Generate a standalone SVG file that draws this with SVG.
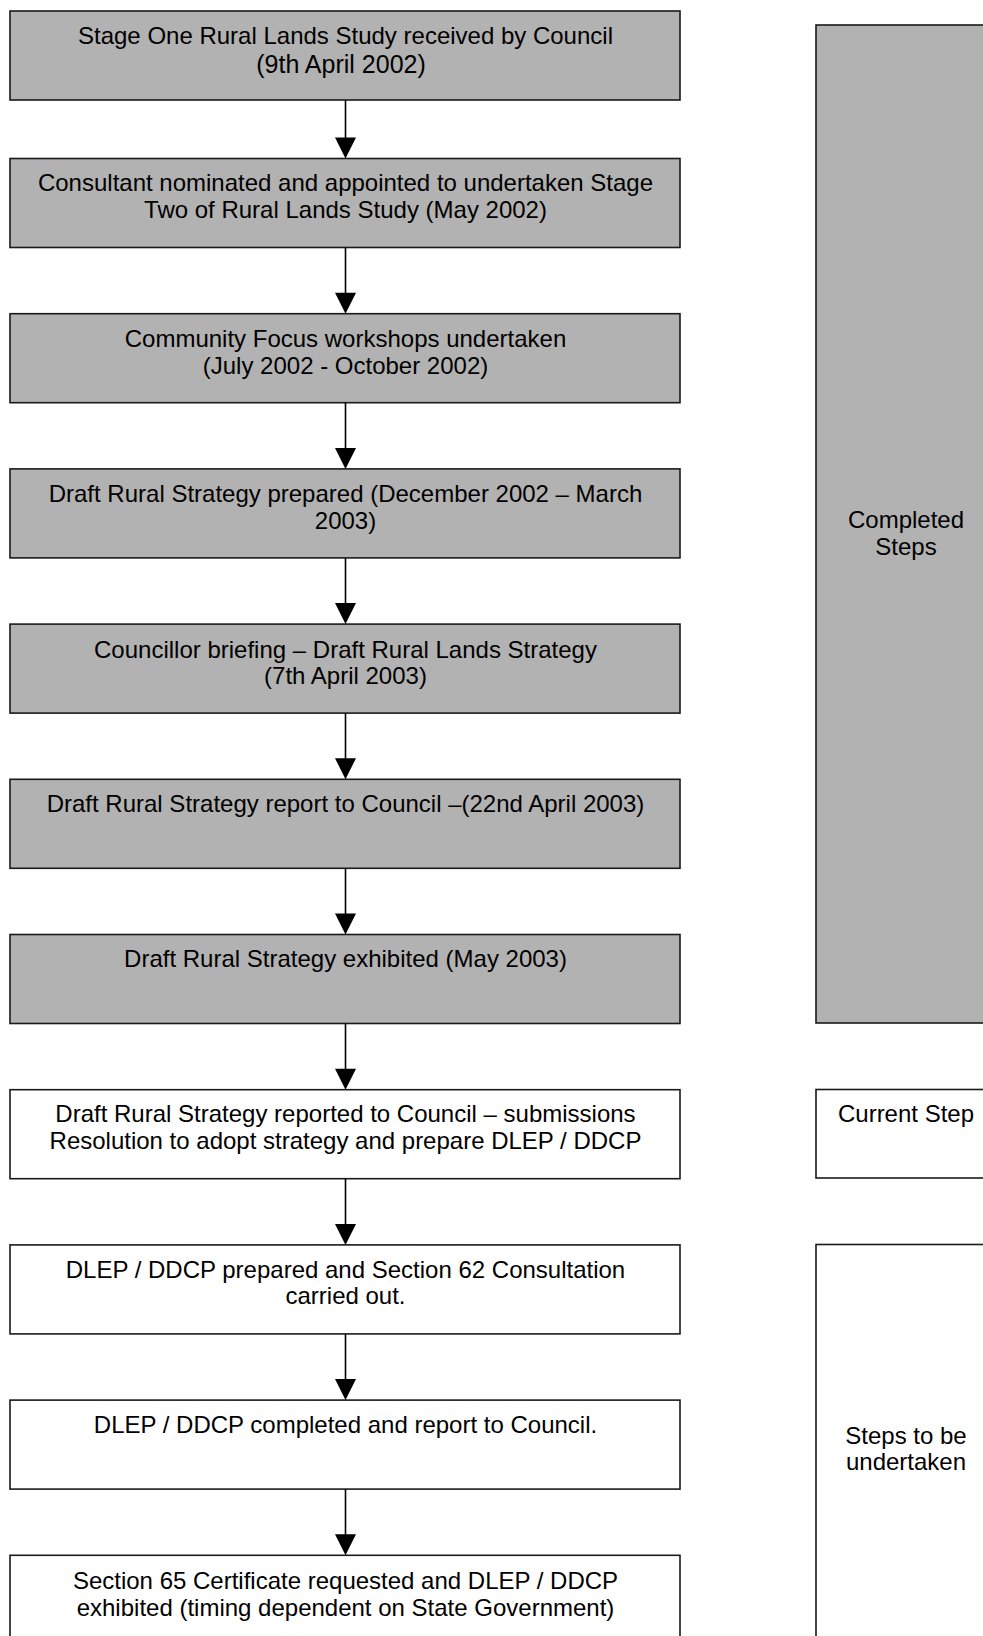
<svg xmlns="http://www.w3.org/2000/svg" width="983" height="1636" viewBox="0 0 983 1636">
<style>
.done{fill:#b2b2b2;stroke:#1a1a1a;stroke-width:1.6}
.todo{fill:#ffffff;stroke:#1a1a1a;stroke-width:1.6}
text{font-family:"Liberation Sans",Arial,sans-serif;font-size:24px;fill:#000;text-anchor:middle}
.big{font-size:25px}
.conn line{stroke:#000;stroke-width:1.6}
.conn polygon{fill:#000}
</style>
<rect width="983" height="1636" fill="#fff"/>
<g id="n1"><rect class="done" x="10" y="11" width="670" height="89"/><text x="345.5" y="44">Stage One Rural Lands Study received by Council</text><text class="big" x="341" y="73">(9th April 2002)</text></g>
<g id="n2"><rect class="done" x="10" y="158.5" width="670" height="89"/><text x="345.5" y="191">Consultant nominated and appointed to undertaken Stage</text><text x="345.5" y="218">Two of Rural Lands Study (May 2002)</text></g>
<g id="n3"><rect class="done" x="10" y="313.7" width="670" height="89"/><text x="345.5" y="347">Community Focus workshops undertaken</text><text x="345.5" y="374">(July 2002 - October 2002)</text></g>
<g id="n4"><rect class="done" x="10" y="468.9" width="670" height="89"/><text x="345.5" y="502">Draft Rural Strategy prepared (December 2002 – March</text><text x="345.5" y="528.5">2003)</text></g>
<g id="n5"><rect class="done" x="10" y="624.1" width="670" height="89"/><text x="345.5" y="657.5">Councillor briefing – Draft Rural Lands Strategy</text><text x="345.5" y="684">(7th April 2003)</text></g>
<g id="n6"><rect class="done" x="10" y="779.3" width="670" height="89"/><text x="345.5" y="812">Draft Rural Strategy report to Council –(22nd April 2003)</text></g>
<g id="n7"><rect class="done" x="10" y="934.5" width="670" height="89"/><text x="345.5" y="967">Draft Rural Strategy exhibited (May 2003)</text></g>
<g id="n8"><rect class="todo" x="10" y="1089.7" width="670" height="89"/><text x="345.5" y="1122">Draft Rural Strategy reported to Council – submissions</text><text x="345.5" y="1148.5">Resolution to adopt strategy and prepare DLEP / DDCP</text></g>
<g id="n9"><rect class="todo" x="10" y="1244.9" width="670" height="89"/><text x="345.5" y="1277.5">DLEP / DDCP prepared and Section 62 Consultation</text><text x="345.5" y="1304">carried out.</text></g>
<g id="n10"><rect class="todo" x="10" y="1400.1" width="670" height="89"/><text x="345.5" y="1433">DLEP / DDCP completed and report to Council.</text></g>
<g id="n11"><rect class="todo" x="10" y="1555.3" width="670" height="100"/><text x="345.5" y="1588.5">Section 65 Certificate requested and DLEP / DDCP</text><text x="345.5" y="1615.5">exhibited (timing dependent on State Government)</text></g>
<g id="legend-completed"><rect class="done" x="816" y="25" width="200" height="998"/><text x="906" y="528">Completed</text><text x="906" y="555">Steps</text></g>
<g id="legend-current"><rect class="todo" x="816" y="1089.5" width="200" height="88.5"/><text x="906" y="1121.5">Current Step</text></g>
<g id="legend-todo"><rect class="todo" x="816" y="1244.5" width="200" height="420"/><text x="906" y="1443.5">Steps to be</text><text x="906" y="1470">undertaken</text></g>
<g id="connectors" class="conn">
<line x1="345.5" y1="100" x2="345.5" y2="138"/><polygon points="335,137.5 356,137.5 345.5,158.5"/>
<line x1="345.5" y1="247.5" x2="345.5" y2="293"/><polygon points="335,292.7 356,292.7 345.5,313.7"/>
<line x1="345.5" y1="402.7" x2="345.5" y2="448"/><polygon points="335,447.9 356,447.9 345.5,468.9"/>
<line x1="345.5" y1="557.9" x2="345.5" y2="604"/><polygon points="335,603.1 356,603.1 345.5,624.1"/>
<line x1="345.5" y1="713.1" x2="345.5" y2="759"/><polygon points="335,758.3 356,758.3 345.5,779.3"/>
<line x1="345.5" y1="868.3" x2="345.5" y2="914"/><polygon points="335,913.5 356,913.5 345.5,934.5"/>
<line x1="345.5" y1="1023.5" x2="345.5" y2="1069"/><polygon points="335,1068.7 356,1068.7 345.5,1089.7"/>
<line x1="345.5" y1="1178.7" x2="345.5" y2="1224"/><polygon points="335,1223.9 356,1223.9 345.5,1244.9"/>
<line x1="345.5" y1="1333.9" x2="345.5" y2="1380"/><polygon points="335,1379.1 356,1379.1 345.5,1400.1"/>
<line x1="345.5" y1="1489.1" x2="345.5" y2="1535"/><polygon points="335,1534.3 356,1534.3 345.5,1555.3"/>
</g>
</svg>
